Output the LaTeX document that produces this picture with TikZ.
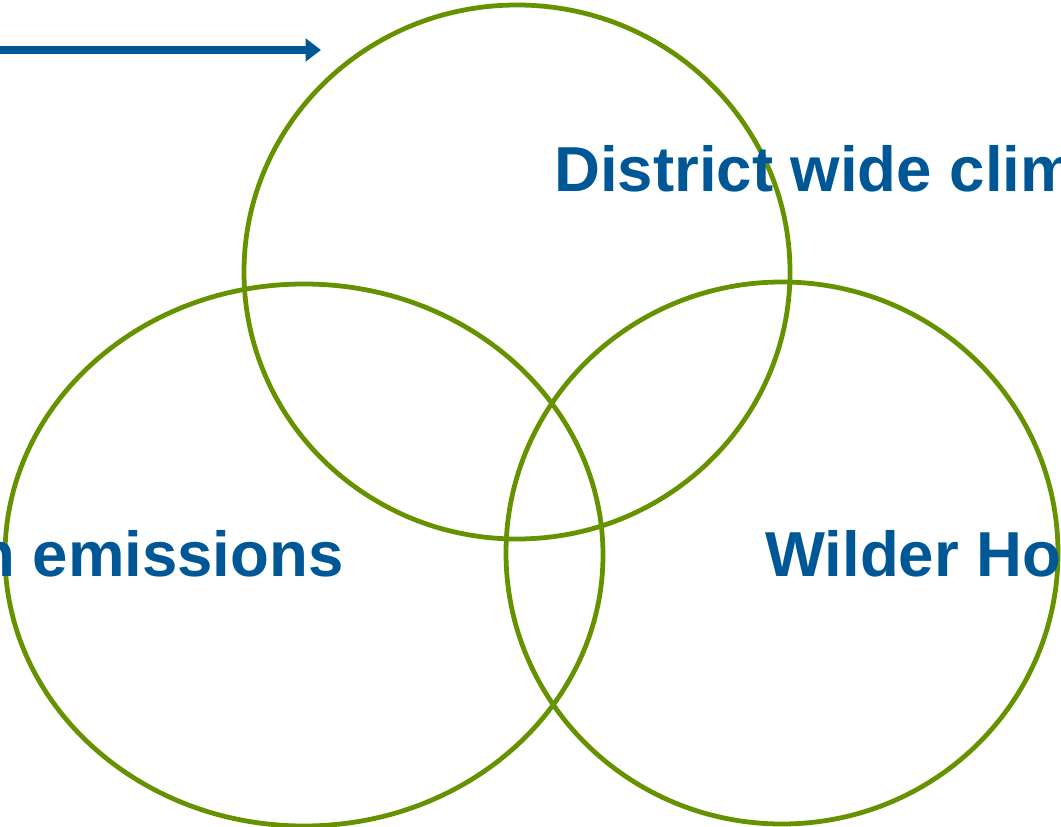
\documentclass[tikz,border=0pt]{standalone}
\usepackage{fontspec}
\setmainfont{Liberation Sans}
\usetikzlibrary{arrows.meta}
\definecolor{ringgreen}{RGB}{102,146,0}
\definecolor{textblue}{RGB}{0,87,150}
\tikzset{
  ring/.style={draw=ringgreen, line width=3.4pt},
  label/.style={anchor=base west, inner sep=0pt, text=textblue,
    font=\fontsize{45.2}{50}\selectfont\bfseries},
  pointer/.style={draw=textblue, line width=5pt,
    -{Triangle[length=11pt,width=16pt]}}
}
\begin{document}
\begin{tikzpicture}[x=0.025cm, y=-0.025cm]
  \useasboundingbox (0,0) rectangle (1061,827);
  \clip (0,0) rectangle (1061,827);
  % the three rings
  \draw[ring] (517,272) ellipse [x radius=273, y radius=267];
  \draw[ring] (304,555) ellipse [x radius=299, y radius=271];
  \draw[ring] (782,553) ellipse [x radius=276, y radius=271];
  % labels
  \node[label] (district) at (554,192) {District wide clim};
  \node[label] (emissions) at (-24,576) {n emissions};
  \node[label] (wilder) at (765,576) {Wilder Ho};
  % arrow
  \coordinate (arrowtail) at (-5,50);
  \coordinate (arrowtip) at (321,50);
  \draw[pointer] (arrowtail) -- (arrowtip);
\end{tikzpicture}
\end{document}
